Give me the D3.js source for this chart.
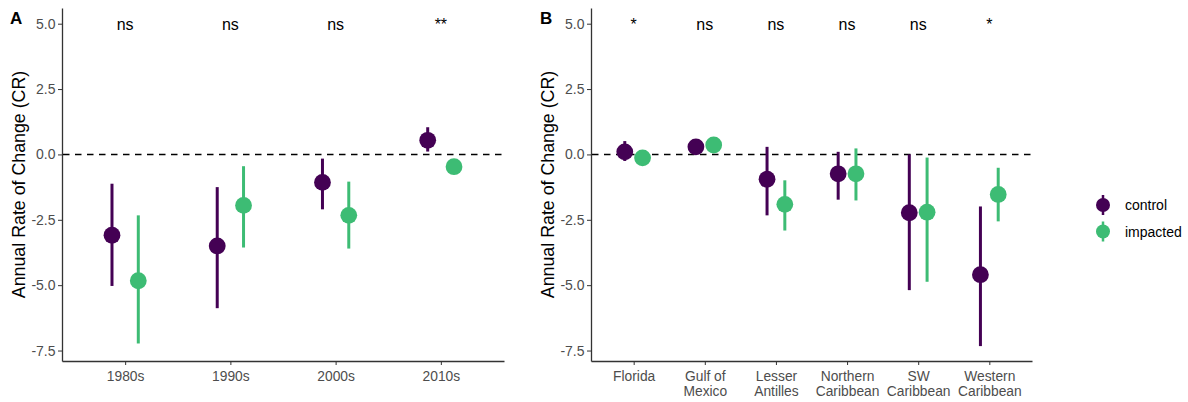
<!DOCTYPE html>
<html>
<head>
<meta charset="utf-8">
<script src="https://cdn.jsdelivr.net/npm/d3@7"></script>
<style>
  body { margin: 0; background: #fff; }
  svg { display: block; font-family: "Liberation Sans", Arial, sans-serif; }
</style>
</head>
<body>
<svg width="1188" height="402"></svg>
<script>
// ---- data ----
const decades = ["1980s", "1990s", "2000s", "2010s"];
const decadeControl = [-3.09, -3.50, -1.07, 0.54];
const decadeControlLo = [-5.03, -5.88, -2.10, 0.11];
const decadeControlHi = [-1.12, -1.25, -0.16, 1.04];
const decadeImpacted = [-4.83, -1.95, -2.33, -0.47];
const decadeImpactedLo = [-7.23, -3.56, -3.60, -0.72];
const decadeImpactedHi = [-2.33, -0.45, -1.04, -0.24];
const decadeSig = ["ns", "ns", "ns", "**"];

const regions = ["Florida", "Gulf of Mexico", "Lesser Antilles", "Northern Caribbean", "SW Caribbean", "Western Caribbean"];
const regionTickLabels = [["Florida"], ["Gulf of", "Mexico"], ["Lesser", "Antilles"], ["Northern", "Caribbean"], ["SW", "Caribbean"], ["Western", "Caribbean"]];
const regionControl = [0.10, 0.29, -0.95, -0.74, -2.23, -4.60];
const regionControlLo = [-0.25, 0.14, -2.33, -1.73, -5.19, -7.33];
const regionControlHi = [0.51, 0.44, 0.29, 0.10, 0.00, -1.99];
const regionImpacted = [-0.13, 0.36, -1.91, -0.74, -2.21, -1.53];
const regionImpactedLo = [-0.30, 0.22, -2.91, -1.76, -4.87, -2.56];
const regionImpactedHi = [0.02, 0.50, -0.99, 0.23, -0.12, -0.51];
const regionSig = ["*", "ns", "ns", "ns", "ns", "*"];

const yTicks = [5.0, 2.5, 0.0, -2.5, -5.0, -7.5];
const groups = ["control", "impacted"];
const colors = { control: "#440154", impacted: "#3dbc74" };

const svg = d3.select("svg");
const yTitle = "Annual Rate of Change (CR)";

const drawPanel = (opts) => {
  const g = svg.append("g");
  const x = d3.scalePoint().domain(opts.cats).range([opts.x0, opts.x1]).padding(0.6);
  const y = d3.scaleLinear().domain([-7.9, 5.6]).range([361, 8]);
  const dodge = x.step() * 0.125;

  // y axis
  const yAxis = g.append("g")
    .attr("transform", `translate(${opts.x0},0)`)
    .call(d3.axisLeft(y).tickValues(yTicks).tickSize(4).tickSizeOuter(0));
  yAxis.select(".domain").attr("stroke", "#333").attr("stroke-width", 1.3);
  yAxis.selectAll(".tick line").attr("stroke", "#333");
  yAxis.selectAll(".tick text").attr("fill", "#4d4d4d").attr("font-size", 14).attr("x", -6.5)
    .text(d => d3.format(".1f")(d).replace("−", "-"));

  // x axis
  const xAxis = g.append("g")
    .attr("transform", "translate(0,361)")
    .call(d3.axisBottom(x).tickSize(4).tickSizeOuter(0).tickFormat(""));
  xAxis.select(".domain").attr("stroke", "#333").attr("stroke-width", 1.3);
  xAxis.selectAll(".tick line").attr("stroke", "#333");
  xAxis.selectAll(".tick").each(function (d, i) {
    const t = d3.select(this).append("text")
      .attr("fill", "#4d4d4d").attr("font-size", 13.8).attr("text-anchor", "middle");
    opts.tickLabels[i].forEach((line, j) => {
      t.append("tspan").attr("x", 0).attr("y", 19.5 + j * 15).text(line);
    });
  });

  // zero line
  g.append("line")
    .attr("x1", opts.x0 + 1).attr("x2", opts.x1)
    .attr("y1", y(0)).attr("y2", y(0))
    .attr("stroke", "#000").attr("stroke-width", 1.6).attr("stroke-dasharray", "6.5,5.5");

  // point ranges
  groups.forEach((grp, k) => {
    const s = opts.series[grp];
    const off = k === 0 ? -dodge : dodge;
    const gg = g.append("g");
    gg.selectAll("line").data(opts.cats).enter().append("line")
      .attr("x1", d => x(d) + off).attr("x2", d => x(d) + off)
      .attr("y1", (d, i) => y(s.lo[i])).attr("y2", (d, i) => y(s.hi[i]))
      .attr("stroke", colors[grp]).attr("stroke-width", 3);
    gg.selectAll("circle").data(opts.cats).enter().append("circle")
      .attr("cx", d => x(d) + off).attr("cy", (d, i) => y(s.mean[i]))
      .attr("r", 8.4).attr("fill", colors[grp]);
  });

  // significance labels
  g.selectAll(".sig").data(opts.cats).enter().append("text")
    .attr("class", "sig")
    .attr("x", d => x(d)).attr("y", y(5) + 6.5)
    .attr("text-anchor", "middle").attr("font-size", 16).attr("fill", "#000")
    .text((d, i) => opts.sig[i]);

  // y title
  g.append("text")
    .attr("transform", `translate(${opts.x0 - 37.5},${(8 + 361) / 2}) rotate(-90)`)
    .attr("text-anchor", "middle").attr("font-size", 17.8).attr("fill", "#000")
    .text(yTitle);

  // panel tag
  g.append("text")
    .attr("x", opts.tagX).attr("y", 24)
    .attr("font-size", 17).attr("font-weight", "bold").attr("fill", "#000")
    .text(opts.tag);
};

drawPanel({
  cats: decades, tickLabels: decades.map(d => [d]), sig: decadeSig,
  x0: 62, x1: 504, tag: "A", tagX: 10,
  series: {
    control: { mean: decadeControl, lo: decadeControlLo, hi: decadeControlHi },
    impacted: { mean: decadeImpacted, lo: decadeImpactedLo, hi: decadeImpactedHi }
  }
});

drawPanel({
  cats: regions, tickLabels: regionTickLabels, sig: regionSig,
  x0: 591, x1: 1032, tag: "B", tagX: 540,
  series: {
    control: { mean: regionControl, lo: regionControlLo, hi: regionControlHi },
    impacted: { mean: regionImpacted, lo: regionImpactedLo, hi: regionImpactedHi }
  }
});

// legend
const legend = svg.append("g").attr("transform", "translate(1103,205)");
groups.forEach((grp, i) => {
  const row = legend.append("g").attr("transform", `translate(0,${i * 26.5})`);
  row.append("line").attr("y1", -10).attr("y2", 10)
    .attr("stroke", colors[grp]).attr("stroke-width", 2.5);
  row.append("circle").attr("r", 7).attr("fill", colors[grp]);
  row.append("text").attr("x", 22).attr("y", 5)
    .attr("font-size", 14).attr("fill", "#000").text(grp);
});
</script>
</body>
</html>
